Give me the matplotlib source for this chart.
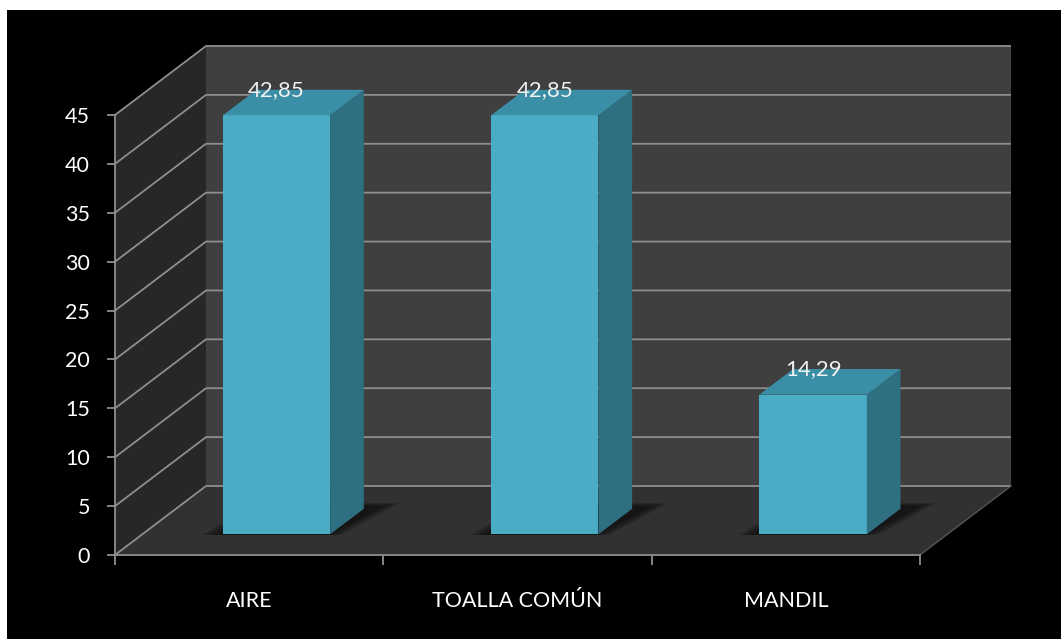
import matplotlib.pyplot as plt
from matplotlib.patches import Polygon, Rectangle

plt.rcParams['font.family'] = ['Lato', 'DejaVu Sans']

categories = ['AIRE', 'TOALLA COMÚN', 'MANDIL']
values = [42.85, 42.85, 14.29]
value_labels = ['42,85', '42,85', '14,29']
yticks = [0, 5, 10, 15, 20, 25, 30, 35, 40, 45]

W, H = 1061, 639
fig = plt.figure(figsize=(W / 100, H / 100), dpi=100, facecolor='white')
fig.patches.append(Rectangle((7 / W, 0), 1, 1 - 10 / H, transform=fig.transFigure,
                             facecolor='black', edgecolor='none', zorder=-10))

ax = fig.add_axes([115 / W, (H - 555) / H, 805 / W, 440 / H])
ax.set_zorder(5)
ax.set_facecolor('none')
ax.set_xlim(-0.5, 2.5)
ax.set_ylim(0, 45)

# depth offset (data units) of the fake 3d box
DX = 91 / 805 * 3
DY = 69 / 440 * 45


def proj(x, y, d):
    return (x + d * DX, y + d * DY)


def face(pts, color, z, **kw):
    ax.add_patch(Polygon([proj(*p) for p in pts], closed=True, facecolor=color,
                         edgecolor='none', zorder=z, clip_on=False, **kw))


x0, x1, top = -0.5, 2.5, yticks[-1]
# walls
face([(x0, 0, 1), (x1, 0, 1), (x1, top, 1), (x0, top, 1)], '#3f3f3f', 1)
face([(x0, 0, 0), (x0, top, 0), (x0, top, 1), (x0, 0, 1)], '#272727', 1)
face([(x0, 0, 0), (x1, 0, 0), (x1, 0, 1), (x0, 0, 1)], '#313131', 1)

grid = '#8e8e8e'
for t in yticks:
    pts = [proj(x0, t, 0), proj(x0, t, 1), proj(x1, t, 1)]
    ax.plot([p[0] for p in pts], [p[1] for p in pts], color=grid, lw=1.3,
            zorder=2, clip_on=False, solid_capstyle='butt')
p = [proj(x1, 0, 0), proj(x1, 0, 1)]
ax.plot([p[0][0], p[1][0]], [p[0][1], p[1][1]], color='#555555', lw=1.0,
        zorder=2, clip_on=False)

# bars
bw = 0.2
d0, d1 = 0.3, 0.67
for i, v in enumerate(values):
    a, b = i - bw, i + bw
    # soft shadow on the floor
    for k in range(4):
        g = 0.015 * k
        face([(a - 0.03 - g, 0, d0 - 0.01), (b + g, 0, d0 - 0.01),
              (b + 0.06 + g, 0, d1 + 0.04 + g), (a + 0.02 - g, 0, d1 + 0.04 + g)],
             'black', 3, alpha=0.18)
    face([(a, 0, d0), (b, 0, d0), (b, v, d0), (a, v, d0)], '#4bacc6', 5)
    face([(b, 0, d0), (b, 0, d1), (b, v, d1), (b, v, d0)], '#2f6f82', 5)
    face([(a, v, d0), (b, v, d0), (b, v, d1), (a, v, d1)], '#3a8fa6', 5)
    tx, ty = proj(i, v, d1)
    ax.text(i + d0 * DX, ty, value_labels[i], ha='center', va='center',
            color='#f2f2f2', fontsize=16, zorder=6)

# axes, ticks, labels
for s in ['top', 'right']:
    ax.spines[s].set_visible(False)
for s in ['left', 'bottom']:
    ax.spines[s].set_color(grid)
    ax.spines[s].set_linewidth(1.3)
    ax.spines[s].set_zorder(4)
ax.set_yticks(yticks)
ax.tick_params(axis='y', colors=grid, length=6, width=1.3, pad=12,
               labelcolor='white', labelsize=15.5)
ax.set_xticks(range(len(categories)))
ax.set_xticklabels(categories)
ax.set_xticks([i - 0.5 for i in range(len(categories) + 1)], minor=True)
ax.tick_params(axis='x', which='major', length=0, pad=26, labelcolor='white',
               labelsize=15.5)
ax.tick_params(axis='x', which='minor', length=7, width=1.3, colors=grid)

fig.savefig('out.png', dpi=100, facecolor='white')
